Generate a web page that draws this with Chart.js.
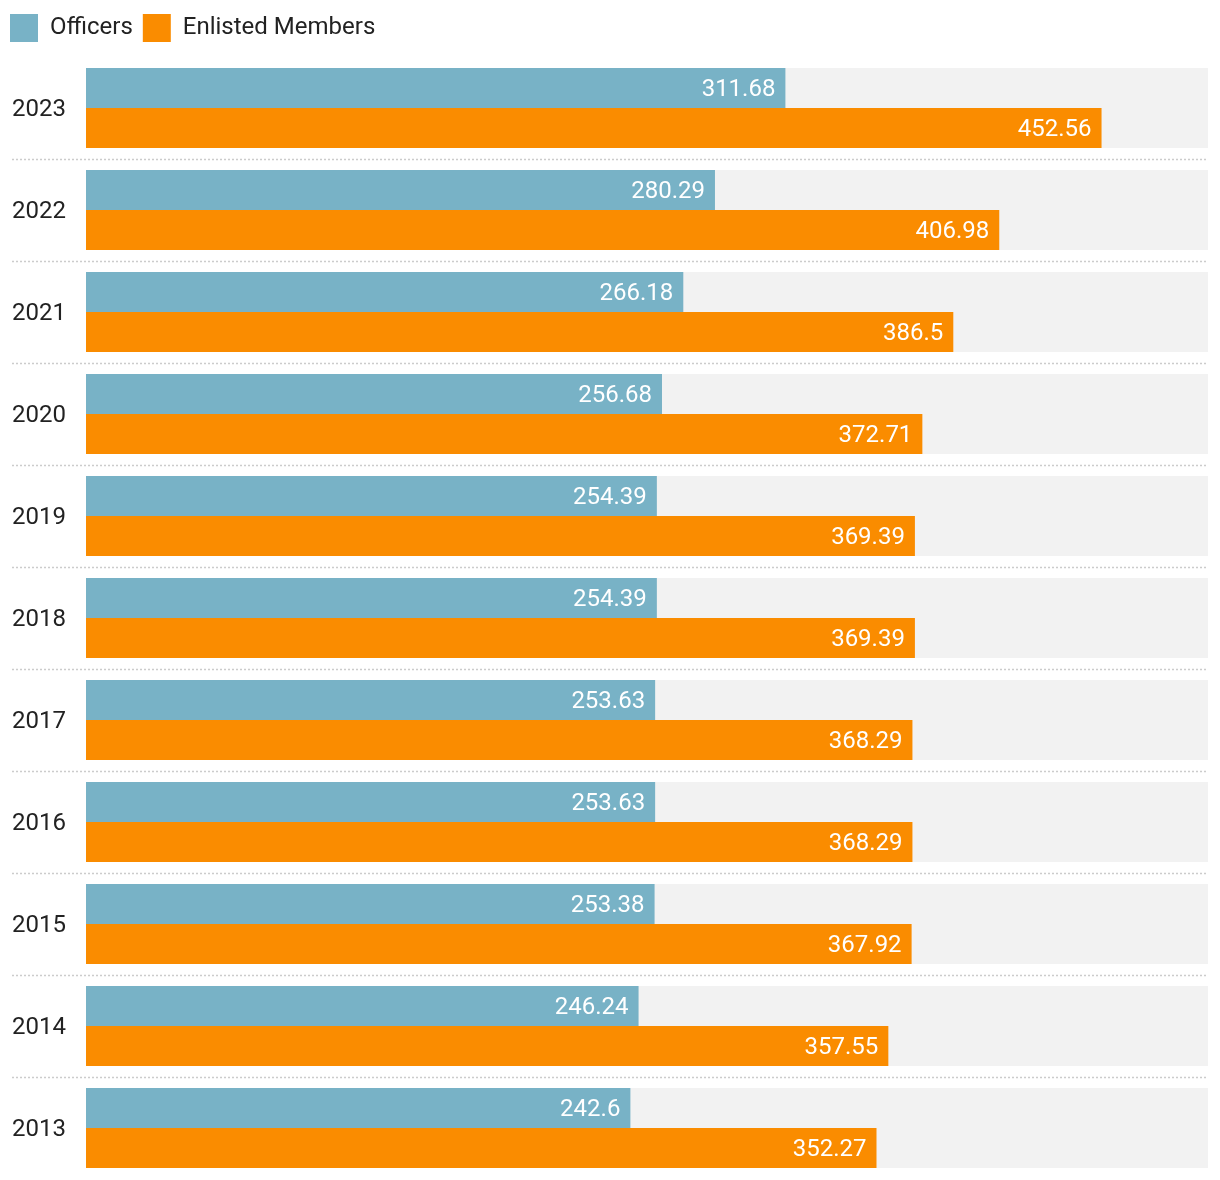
<!DOCTYPE html>
<html>
<head>
<meta charset="utf-8">
<script src="https://cdn.jsdelivr.net/npm/chart.js@4"></script>
<style>
  html, body { margin: 0; padding: 0; background: #fff; }
  #wrap { width: 1220px; height: 1180px; position: relative; }
</style>
</head>
<body>
<div id="wrap"><canvas id="chart"></canvas></div>
<script>
const years = ["2023", "2022", "2021", "2020", "2019", "2018", "2017", "2016", "2015", "2014", "2013"];
const officers = [311.68, 280.29, 266.18, 256.68, 254.39, 254.39, 253.63, 253.63, 253.38, 246.24, 242.6];
const enlisted = [452.56, 406.98, 386.5, 372.71, 369.39, 369.39, 368.29, 368.29, 367.92, 357.55, 352.27];
const xMax = 500;

const FONT = "Roboto, 'Noto Sans', sans-serif";

// a little extra room under the legend
const legendGap = {
  id: "legendGap",
  beforeInit(chart) {
    const fit = chart.legend.fit;
    chart.legend.fit = function () {
      fit.bind(chart.legend)();
      this.height += 5;
    };
  }
};

// grey band behind each year, dotted separators and value labels
const bandsPlugin = {
  id: "bands",
  beforeDatasetsDraw(chart) {
    const ctx = chart.ctx;
    const area = chart.chartArea;
    const x = chart.scales.x;
    const m0 = chart.getDatasetMeta(0).data;
    const m1 = chart.getDatasetMeta(1).data;
    ctx.save();
    ctx.fillStyle = "#f2f2f2";
    for (let i = 0; i < m0.length; i++) {
      const top = m0[i].y - m0[i].height / 2;
      const bottom = m1[i].y + m1[i].height / 2;
      ctx.fillRect(x.getPixelForValue(0), top, x.getPixelForValue(xMax) - x.getPixelForValue(0), bottom - top);
    }
    ctx.strokeStyle = "#cccccc";
    ctx.lineWidth = 1.5;
    ctx.setLineDash([2, 2]);
    for (let i = 0; i < m0.length - 1; i++) {
      const bottom = m1[i].y + m1[i].height / 2;
      const nextTop = m0[i + 1].y - m0[i + 1].height / 2;
      const y = Math.round((bottom + nextTop) / 2) + 0.5;
      ctx.beginPath();
      ctx.moveTo(12, y);
      ctx.lineTo(area.right, y);
      ctx.stroke();
    }
    ctx.restore();
  },
  afterDatasetsDraw(chart) {
    const ctx = chart.ctx;
    ctx.save();
    ctx.fillStyle = "#ffffff";
    ctx.font = "24px " + FONT;
    ctx.textAlign = "right";
    ctx.textBaseline = "middle";
    chart.data.datasets.forEach((ds, di) => {
      chart.getDatasetMeta(di).data.forEach((bar, i) => {
        ctx.fillText(String(ds.data[i]), bar.x - 10, bar.y + 2);
      });
    });
    ctx.restore();
  }
};

new Chart(document.getElementById("chart"), {
  type: "bar",
  data: {
    labels: years,
    datasets: [
      { label: "Officers", data: officers, backgroundColor: "#78b2c6" },
      { label: "Enlisted Members", data: enlisted, backgroundColor: "#fa8c00" }
    ]
  },
  options: {
    indexAxis: "y",
    responsive: true,
    maintainAspectRatio: false,
    animation: false,
    categoryPercentage: 80 / 102,
    barPercentage: 1,
    layout: { padding: { left: 0, right: 12, top: 4, bottom: 1 } },
    plugins: {
      legend: {
        position: "top",
        align: "start",
        labels: {
          boxWidth: 28,
          boxHeight: 28,
          padding: 10,
          color: "#222",
          font: { family: FONT, size: 24 }
        }
      },
      tooltip: { enabled: false }
    },
    scales: {
      x: { display: false, min: 0, max: xMax },
      y: {
        grid: { display: false, drawTicks: false },
        border: { display: false },
        ticks: {
          padding: 20,
          labelOffset: 2,
          color: "#222",
          font: { family: FONT, size: 24 }
        },
        afterFit(scale) {
          scale.width = 86;
          scale.paddingTop = 0;
          scale.paddingBottom = 0;
        }
      }
    }
  },
  plugins: [legendGap, bandsPlugin]
});
</script>
</body>
</html>
